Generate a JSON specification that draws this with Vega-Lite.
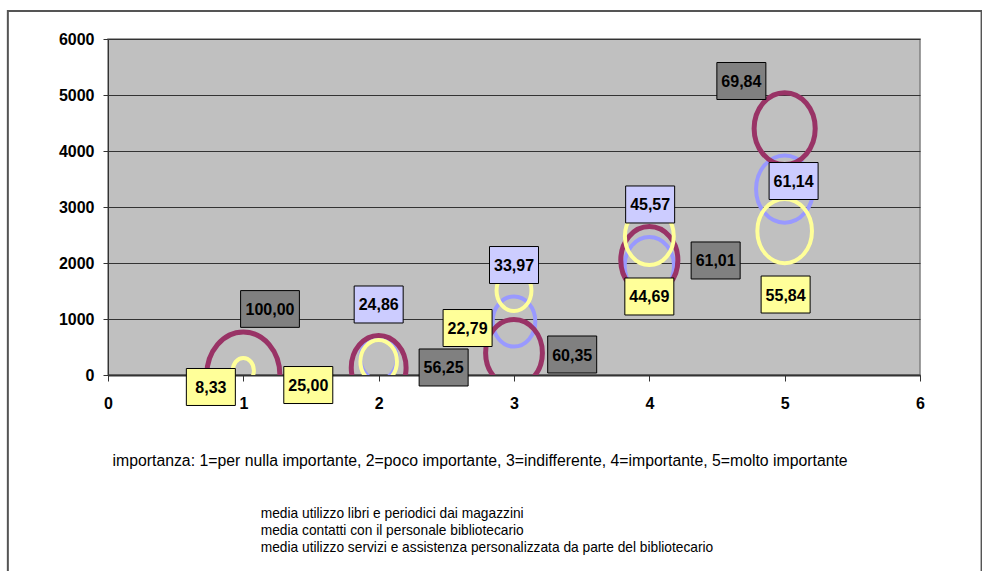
{
  "$schema": "https://vega.github.io/schema/vega-lite/v6.json",
  "width": 812,
  "height": 336,
  "autosize": {"type": "none"},
  "padding": {"left": 108, "top": 39, "right": 62, "bottom": 196},
  "background": "white",
  "config": {
    "view": {"fill": "#c0c0c0", "stroke": "#808080", "strokeWidth": 1.5},
    "axis": {
      "labelFont": "Liberation Sans",
      "labelFontWeight": "bold",
      "labelFontSize": 16,
      "labelColor": "#000000",
      "domainColor": "#333333",
      "tickColor": "#333333",
      "tickSize": 5,
      "labelFlush": false,
      "labelOverlap": false
    },
    "legend": {
      "labelFont": "Liberation Sans",
      "labelFontSize": 13.75,
      "labelColor": "#000000",
      "symbolSize": 0,
      "symbolOpacity": 0,
      "symbolStrokeWidth": 0,
      "labelOffset": 0,
      "rowPadding": 2.3,
      "labelLimit": 800
    }
  },
  "datasets": {
    "bubbles": [
      {"serie": "media utilizzo libri e periodici dai magazzini", "imp": 2, "media": 296, "valore": 24.86, "etichetta": "24,86", "lx": 2.0, "ly": 1259},
      {"serie": "media utilizzo libri e periodici dai magazzini", "imp": 3, "media": 955, "valore": 33.97, "etichetta": "33,97", "lx": 3.0, "ly": 1964},
      {"serie": "media utilizzo libri e periodici dai magazzini", "imp": 4, "media": 1946, "valore": 45.57, "etichetta": "45,57", "lx": 4.006, "ly": 3045},
      {"serie": "media utilizzo libri e periodici dai magazzini", "imp": 5, "media": 3321, "valore": 61.14, "etichetta": "61,14", "lx": 5.066, "ly": 3464},
      {"serie": "media contatti con il personale bibliotecario", "imp": 1, "media": 0, "valore": 100, "etichetta": "100,00", "lx": 1.197, "ly": 1179},
      {"serie": "media contatti con il personale bibliotecario", "imp": 2, "media": 130, "valore": 56.25, "etichetta": "56,25", "lx": 2.48, "ly": 134},
      {"serie": "media contatti con il personale bibliotecario", "imp": 3, "media": 395, "valore": 60.35, "etichetta": "60,35", "lx": 3.43, "ly": 366},
      {"serie": "media contatti con il personale bibliotecario", "imp": 4, "media": 2050, "valore": 61.01, "etichetta": "61,01", "lx": 4.49, "ly": 2045},
      {"serie": "media contatti con il personale bibliotecario", "imp": 5, "media": 4400, "valore": 69.84, "etichetta": "69,84", "lx": 4.68, "ly": 5250},
      {"serie": "media utilizzo servizi e assistenza personalizzata da parte del bibliotecario", "imp": 1, "media": 82, "valore": 8.33, "etichetta": "8,33", "lx": 0.76, "ly": -214},
      {"serie": "media utilizzo servizi e assistenza personalizzata da parte del bibliotecario", "imp": 2, "media": 241, "valore": 25.0, "etichetta": "25,00", "lx": 1.48, "ly": -179},
      {"serie": "media utilizzo servizi e assistenza personalizzata da parte del bibliotecario", "imp": 3, "media": 1509, "valore": 22.79, "etichetta": "22,79", "lx": 2.657, "ly": 839},
      {"serie": "media utilizzo servizi e assistenza personalizzata da parte del bibliotecario", "imp": 4, "media": 2477, "valore": 44.69, "etichetta": "44,69", "lx": 4.0, "ly": 1402},
      {"serie": "media utilizzo servizi e assistenza personalizzata da parte del bibliotecario", "imp": 5, "media": 2571, "valore": 55.84, "etichetta": "55,84", "lx": 5.007, "ly": 1437}
    ],
    "frame": [{"x0": -0.74, "x1": 6.455, "y0": 6500, "y1": -4000}]
  },
  "layer": [
    {
      "data": {"name": "frame"},
      "mark": {"type": "rect", "fillOpacity": 0, "stroke": "#555555", "strokeWidth": 2, "clip": false},
      "encoding": {
        "x": {"field": "x0", "type": "quantitative", "scale": {"domain": [0, 6], "nice": false, "zero": false}},
        "x2": {"field": "x1"},
        "y": {"field": "y0", "type": "quantitative", "scale": {"domain": [0, 6000], "nice": false, "zero": false}},
        "y2": {"field": "y1"}
      }
    },
    {
      "data": {"name": "bubbles"},
      "mark": {
        "type": "point",
        "filled": false,
        "opacity": 1,
        "clip": true,
        "shape": "M0,-1A0.85,1 0 1,1 0,1A0.85,1 0 1,1 0,-1Z"
      },
      "encoding": {
        "x": {
          "field": "imp", "type": "quantitative",
          "scale": {"domain": [0, 6], "nice": false, "zero": false},
          "axis": {
            "values": [0, 1, 2, 3, 4, 5, 6],
            "grid": false,
            "format": "d",
            "domainWidth": 2,
            "tickSize": 6,
            "labelPadding": 14,
            "title": "importanza: 1=per nulla importante, 2=poco importante, 3=indifferente, 4=importante, 5=molto importante",
            "titleFont": "Liberation Sans",
            "titleFontSize": 15.8,
            "titleFontWeight": "normal",
            "titleColor": "#000000",
            "titleAlign": "left",
            "titleAnchor": "start",
            "titleBaseline": "middle",
            "titleX": 4,
            "titleY": 85
          }
        },
        "y": {
          "field": "media", "type": "quantitative",
          "scale": {"domain": [0, 6000], "nice": false, "zero": false},
          "axis": {
            "values": [0, 1000, 2000, 3000, 4000, 5000, 6000],
            "grid": true,
            "gridColor": "#333333",
            "gridWidth": 1,
            "format": "d",
            "labelPadding": 9,
            "title": null
          }
        },
        "size": {"field": "valore", "type": "quantitative", "scale": {"type": "linear", "domain": [0, 100], "range": [0, 7400]}, "legend": null},
        "stroke": {
          "field": "serie", "type": "nominal",
          "scale": {
            "domain": [
              "media utilizzo libri e periodici dai magazzini",
              "media contatti con il personale bibliotecario",
              "media utilizzo servizi e assistenza personalizzata da parte del bibliotecario"
            ],
            "range": ["#9999ff", "#993366", "#ffff99"]
          },
          "legend": {"orient": "none", "legendX": 139, "legendY": 468, "title": null, "direction": "vertical"}
        },
        "strokeWidth": {
          "condition": {"test": "datum.serie === 'media contatti con il personale bibliotecario'", "value": 5},
          "value": 4
        }
      }
    },
    {
      "data": {"name": "bubbles"},
      "mark": {"type": "point", "filled": true, "opacity": 1, "fillOpacity": 1, "stroke": "#000000", "strokeWidth": 1, "size": 2401, "clip": false},
      "encoding": {
        "x": {"field": "lx", "type": "quantitative"},
        "y": {"field": "ly", "type": "quantitative"},
        "fill": {
          "field": "serie", "type": "nominal",
          "scale": {
            "domain": [
              "media utilizzo libri e periodici dai magazzini",
              "media contatti con il personale bibliotecario",
              "media utilizzo servizi e assistenza personalizzata da parte del bibliotecario"
            ],
            "range": ["#ccccff", "#808080", "#ffff99"]
          },
          "legend": null
        },
        "shape": {
          "condition": {"test": "length(datum.etichetta) > 5", "value": "M-1.2,-0.75H1.2V0.75H-1.2Z"},
          "value": "M-1,-0.755H1V0.755H-1Z"
        }
      }
    },
    {
      "data": {"name": "bubbles"},
      "mark": {"type": "text", "font": "Liberation Sans", "fontWeight": "bold", "fontSize": 16, "align": "center", "baseline": "middle", "dy": 1, "color": "#000000", "clip": false},
      "encoding": {
        "x": {"field": "lx", "type": "quantitative"},
        "y": {"field": "ly", "type": "quantitative"},
        "text": {"field": "etichetta", "type": "nominal"}
      }
    }
  ]
}
